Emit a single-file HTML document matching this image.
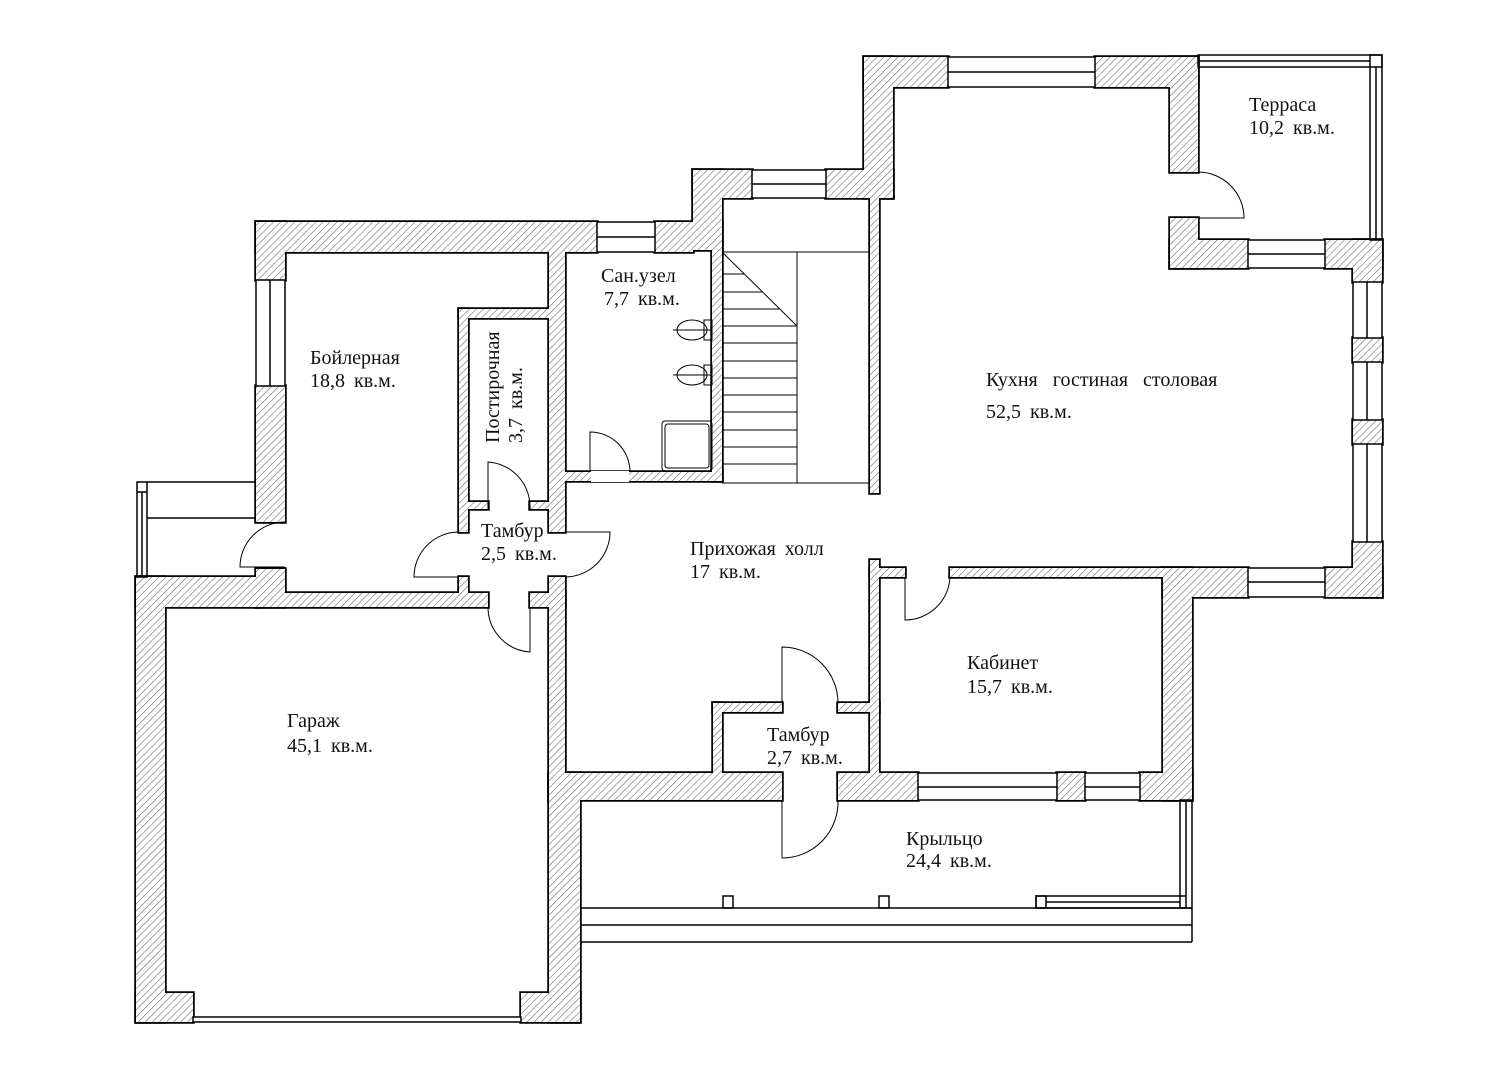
<!DOCTYPE html>
<html><head><meta charset="utf-8"><style>
html,body{margin:0;padding:0;background:#fff}
svg{display:block}
text{font-family:"Liberation Serif","DejaVu Serif",serif;font-size:20px;fill:#111;word-spacing:4px}
</style></head><body>
<svg width="1498" height="1080" viewBox="0 0 1498 1080" xmlns="http://www.w3.org/2000/svg">
<defs>
<pattern id="h" width="5" height="5" patternUnits="userSpaceOnUse" patternTransform="rotate(45)">
<rect width="5" height="5" fill="#fff"/><line x1="0" y1="0" x2="0" y2="5" stroke="#777" stroke-width="1.3"/>
</pattern>
<g id="walls">
<rect x="256" y="222" width="341" height="30"/>
<rect x="655" y="222" width="38" height="30"/>
<rect x="256" y="222" width="29" height="58"/>
<rect x="256" y="386" width="29" height="136"/>
<rect x="549" y="252" width="16" height="280"/>
<rect x="549" y="577" width="16" height="30"/>
<rect x="459" y="309" width="9" height="223"/>
<rect x="459" y="309" width="90" height="9"/>
<rect x="468" y="502" width="20" height="7"/>
<rect x="530" y="502" width="19" height="7"/>
<rect x="256" y="569" width="29" height="38"/>
<rect x="256" y="593" width="232" height="14"/>
<rect x="459" y="577" width="9" height="20"/>
<rect x="530" y="593" width="19" height="14"/>
<rect x="136" y="577" width="120" height="30"/>
<rect x="136" y="577" width="29" height="445"/>
<rect x="136" y="993" width="57" height="29"/>
<rect x="521" y="993" width="59" height="29"/>
<rect x="549" y="593" width="16" height="210"/>
<rect x="549" y="773" width="31" height="249"/>
<rect x="549" y="773" width="233" height="27"/>
<rect x="713" y="703" width="69" height="9"/>
<rect x="713" y="703" width="9" height="70"/>
<rect x="838" y="703" width="41" height="9"/>
<rect x="838" y="773" width="80" height="27"/>
<rect x="1057" y="773" width="28" height="27"/>
<rect x="1140" y="773" width="52" height="27"/>
<rect x="870" y="560" width="9" height="213"/>
<rect x="870" y="568" width="35" height="9"/>
<rect x="950" y="568" width="213" height="9"/>
<rect x="1163" y="568" width="29" height="232"/>
<rect x="1163" y="568" width="85" height="29"/>
<rect x="1325" y="568" width="57" height="29"/>
<rect x="1353" y="240" width="29" height="42"/>
<rect x="1353" y="338" width="29" height="24"/>
<rect x="1353" y="420" width="29" height="24"/>
<rect x="1353" y="542" width="29" height="55"/>
<rect x="1170" y="240" width="78" height="28"/>
<rect x="1325" y="240" width="57" height="28"/>
<rect x="1170" y="218" width="28" height="50"/>
<rect x="864" y="57" width="84" height="30"/>
<rect x="1095" y="57" width="103" height="30"/>
<rect x="1170" y="57" width="28" height="115"/>
<rect x="864" y="57" width="29" height="141"/>
<rect x="693" y="170" width="59" height="28"/>
<rect x="826" y="170" width="67" height="28"/>
<rect x="693" y="170" width="29" height="80"/>
<rect x="712" y="222" width="10" height="259"/>
<rect x="565" y="472" width="157" height="9"/>
<rect x="870" y="198" width="9" height="295"/>
</g>
</defs>
<use href="#walls" fill="#000" stroke="#000" stroke-width="3.5"/>
<use href="#walls" fill="url(#h)" stroke="none"/>
<!-- door gap -->
<rect x="591" y="471" width="38" height="11" fill="#fff"/>
<!-- windows -->
<g fill="#fff" stroke="#000" stroke-width="1.5">
<rect x="597" y="222" width="58" height="30"/><line x1="597" y1="237" x2="655" y2="237"/>
<rect x="256" y="280" width="29" height="106"/><line x1="270" y1="280" x2="270" y2="386"/>
<rect x="752" y="170" width="74" height="28"/><line x1="752" y1="184" x2="826" y2="184"/>
<rect x="948" y="57" width="147" height="30"/><line x1="948" y1="72" x2="1095" y2="72"/>
<rect x="1248" y="240" width="77" height="28"/><line x1="1248" y1="254" x2="1325" y2="254"/>
<rect x="1248" y="568" width="77" height="29"/><line x1="1248" y1="582" x2="1325" y2="582"/>
<rect x="1353" y="282" width="29" height="56"/><line x1="1367" y1="282" x2="1367" y2="338"/>
<rect x="1353" y="362" width="29" height="58"/><line x1="1367" y1="362" x2="1367" y2="420"/>
<rect x="1353" y="444" width="29" height="98"/><line x1="1367" y1="444" x2="1367" y2="542"/>
<rect x="918" y="773" width="139" height="27"/><line x1="918" y1="787" x2="1057" y2="787"/>
<rect x="1085" y="773" width="55" height="27"/><line x1="1085" y1="787" x2="1140" y2="787"/>
<rect x="193" y="1017" width="328" height="5"/>
</g>
<g fill="none" stroke="#000" stroke-width="1.5">
<rect x="1198" y="55" width="184" height="12"/>
<line x1="1198" y1="61" x2="1370" y2="61"/>
<rect x="1370" y="55" width="12" height="185"/>
<line x1="1376" y1="67" x2="1376" y2="240"/>
<rect x="137" y="482" width="10" height="95"/>
<line x1="142" y1="492" x2="142" y2="577"/>
<line x1="137" y1="492" x2="147" y2="492"/>
<line x1="147" y1="482" x2="256" y2="482"/>
<line x1="147" y1="518" x2="256" y2="518"/>
<line x1="580" y1="908" x2="1192" y2="908"/>
<line x1="580" y1="925" x2="1192" y2="925"/>
<line x1="580" y1="942" x2="1192" y2="942"/>
<line x1="1192" y1="908" x2="1192" y2="942"/>
<rect x="1180" y="800" width="12" height="108"/>
<line x1="1186" y1="800" x2="1186" y2="896"/>
<rect x="1036" y="896" width="150" height="12"/>
<line x1="1046" y1="902" x2="1180" y2="902"/>
<rect x="723" y="896" width="10" height="12"/>
<rect x="879" y="896" width="10" height="12"/>
<rect x="1036" y="896" width="10" height="12"/>
</g>
<g stroke="#000" stroke-width="1" fill="none">
<line x1="722" y1="252" x2="870" y2="252"/>
<line x1="797" y1="252" x2="797" y2="483"/>
<line x1="722" y1="252" x2="797" y2="326"/>
<line x1="722" y1="274" x2="744" y2="274"/>
<line x1="722" y1="292" x2="762" y2="292"/>
<line x1="722" y1="309" x2="779" y2="309"/>
<line x1="722" y1="326" x2="797" y2="326"/>
<line x1="722" y1="343" x2="797" y2="343"/>
<line x1="722" y1="361" x2="797" y2="361"/>
<line x1="722" y1="378" x2="797" y2="378"/>
<line x1="722" y1="395" x2="797" y2="395"/>
<line x1="722" y1="412" x2="797" y2="412"/>
<line x1="722" y1="430" x2="797" y2="430"/>
<line x1="722" y1="447" x2="797" y2="447"/>
<line x1="722" y1="464" x2="797" y2="464"/>
<line x1="722" y1="483" x2="870" y2="483"/>
</g>
<g stroke="#000" stroke-width="1" fill="none">
<path d="M590 472 V432 A40 40 0 0 1 630 472"/>
<path d="M285 522 A45 45 0 0 0 240 567 H285"/>
<path d="M459 532 A45 45 0 0 0 414 577 H459"/>
<path d="M565 532 H610 A45 45 0 0 1 565 577"/>
<path d="M488 509 V462 A45 45 0 0 1 530 509"/>
<path d="M488 607 A45 45 0 0 0 530 652 V607"/>
<path d="M1198 172 A46 46 0 0 1 1244 218 H1198"/>
<path d="M905 577 V620 A45 45 0 0 0 950 577"/>
<path d="M782 703 V647 A56 56 0 0 1 838 703"/>
<path d="M782 800 V858 A56 56 0 0 0 838 800"/>
<ellipse cx="692" cy="330" rx="15" ry="10"/><rect x="704" y="320" width="8" height="20"/>
<line x1="673" y1="330" x2="712" y2="330"/>
<ellipse cx="692" cy="375" rx="15" ry="10"/><rect x="704" y="365" width="8" height="20"/>
<line x1="673" y1="375" x2="712" y2="375"/>
<rect x="662" y="421" width="50" height="50" rx="3"/>
<rect x="665" y="424" width="44" height="44" rx="3"/>
</g>
<text x="310" y="364">Бойлерная</text>
<text x="310" y="387">18,8 кв.м.</text>
<text x="601" y="282">Сан.узел</text>
<text x="604" y="305">7,7 кв.м.</text>
<text transform="translate(499,443) rotate(-90)">Постирочная</text>
<text transform="translate(522,443) rotate(-90)">3,7 кв.м.</text>
<text x="481" y="537">Тамбур</text>
<text x="481" y="560">2,5 кв.м.</text>
<text x="690" y="555">Прихожая холл</text>
<text x="690" y="578">17 кв.м.</text>
<text x="986" y="386" style="word-spacing:10px">Кухня гостиная столовая</text>
<text x="986" y="418">52,5 кв.м.</text>
<text x="1249" y="111">Терраса</text>
<text x="1249" y="134">10,2 кв.м.</text>
<text x="967" y="669">Кабинет</text>
<text x="967" y="693">15,7 кв.м.</text>
<text x="767" y="741">Тамбур</text>
<text x="767" y="764">2,7 кв.м.</text>
<text x="906" y="845">Крыльцо</text>
<text x="906" y="867">24,4 кв.м.</text>
<text x="287" y="727">Гараж</text>
<text x="287" y="752">45,1 кв.м.</text>
</svg>
</body></html>
